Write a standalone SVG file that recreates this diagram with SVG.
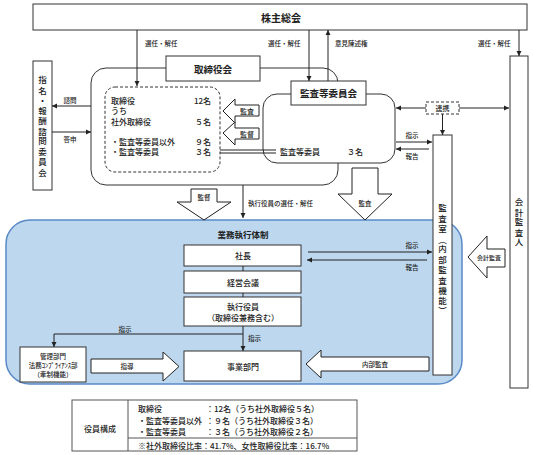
<svg xmlns="http://www.w3.org/2000/svg" width="533" height="455" viewBox="0 0 533 455">
<defs>
<marker id="ah" markerUnits="userSpaceOnUse" markerWidth="6" markerHeight="6" refX="5" refY="3" orient="auto"><path d="M0,0.5 L5,3 L0,5.5 Z" fill="#222"/></marker>
<style>
.bx{fill:#fff;stroke:#333;stroke-width:1}
.ln{fill:none;stroke:#222;stroke-width:1}
.ba{fill:#fff;stroke:#222;stroke-width:1}
.t{font-family:"Noto Sans CJK JP","Noto Sans",sans-serif;fill:#222;font-weight:500}
.b{font-weight:bold}
.c{text-anchor:middle;dominant-baseline:central}
.s{dominant-baseline:central}
.v{writing-mode:vertical-rl;text-anchor:middle}
</style>
</defs>
<rect width="533" height="455" fill="#fff"/>

<g id="kabunushi">
<rect class="bx" x="33" y="4" width="494" height="26"/>
<text class="t b c" x="281" y="17" font-size="10">株主総会</text>
</g>

<g id="gyomu">
<rect x="6" y="220" width="456" height="164" rx="24" fill="#BDD7EE" stroke="#5A8AC6" stroke-width="1.5"/>
<text class="t b c" x="243" y="234" font-size="8.5">業務執行体制</text>
</g>

<g id="torishimariyakukai">
<rect x="91" y="68" width="247" height="117" rx="15" fill="none" stroke="#333" stroke-width="1"/>
<rect class="bx" x="166" y="56" width="94" height="25"/>
<text class="t b c" x="213" y="68.5" font-size="9.5">取締役会</text>
<rect x="105" y="87" width="115" height="85" rx="10" fill="#fff" stroke="#333" stroke-width="1" stroke-dasharray="3,2"/>
<text class="t s" x="111" y="100" font-size="8">取締役</text>
<text class="t s" x="194" y="100" font-size="8">12名</text>
<text class="t s" x="111" y="110.5" font-size="8">うち</text>
<text class="t s" x="111" y="121" font-size="8">社外取締役</text>
<text class="t s" x="195" y="121" font-size="8">５名</text>
<text class="t s" x="111" y="141.5" font-size="8">・監査等委員以外</text>
<text class="t s" x="195" y="141.5" font-size="8">９名</text>
<text class="t s" x="111" y="151.5" font-size="8">・監査等委員</text>
<text class="t s" x="195" y="151.5" font-size="8">３名</text>
</g>

<g id="kansatouiinkai">
<rect class="bx" x="263" y="94" width="132" height="69" rx="14"/>
<rect class="bx" x="291" y="81" width="75" height="24"/>
<text class="t b c" x="328.5" y="93" font-size="9.5">監査等委員会</text>
<text class="t s" x="280" y="151.5" font-size="8">監査等委員</text>
<text class="t s" x="347" y="151.5" font-size="8">３名</text>
</g>

<g id="shimei">
<rect class="bx" x="33" y="61" width="19" height="129"/>
<text class="t v" x="42.5" font-size="8.5"><tspan y="80">指</tspan><tspan y="90.2">名</tspan><tspan y="100.4">・</tspan><tspan y="110.6">報</tspan><tspan y="120.8">酬</tspan><tspan y="131">諮</tspan><tspan y="141.2">問</tspan><tspan y="151.4">委</tspan><tspan y="161.6">員</tspan><tspan y="171.8">会</tspan></text>
</g>

<g id="kansashitsu">
<rect class="bx" x="433" y="135" width="19" height="240"/>
<text class="t v" x="442.5" font-size="8.5"><tspan y="208">監</tspan><tspan y="218.3">査</tspan><tspan y="228.6">室</tspan><tspan y="238.9">（</tspan><tspan y="249.2">内</tspan><tspan y="259.5">部</tspan><tspan y="269.8">監</tspan><tspan y="280.1">査</tspan><tspan y="290.4">機</tspan><tspan y="300.7">能</tspan><tspan y="311">）</tspan></text>
</g>

<g id="kaikeikansanin">
<rect class="bx" x="510" y="56" width="18" height="332"/>
<text class="t v" x="519" font-size="8.5"><tspan y="202">会</tspan><tspan y="212">計</tspan><tspan y="222">監</tspan><tspan y="232">査</tspan><tspan y="242">人</tspan></text>
</g>

<g id="renkei">
<rect x="426" y="102" width="33" height="12" fill="#fff" stroke="#333" stroke-dasharray="3,2"/>
<text class="t c" x="442.5" y="108" font-size="7">連携</text>
</g>

<g id="shacho">
<rect class="bx" x="184" y="245" width="117" height="21"/>
<text class="t c" x="243" y="255.5" font-size="8">社長</text>
</g>
<g id="keiei">
<rect class="bx" x="184" y="271" width="117" height="22"/>
<text class="t c" x="243" y="282" font-size="8">経営会議</text>
</g>
<g id="shikkou">
<rect class="bx" x="184" y="297" width="117" height="29"/>
<text class="t c" x="243" y="306.5" font-size="8">執行役員</text>
<text class="t c" x="243" y="317" font-size="8">（取締役兼務含む）</text>
</g>
<g id="jigyo">
<rect class="bx" x="184" y="351" width="117" height="30"/>
<text class="t c" x="243" y="366" font-size="8">事業部門</text>
</g>
<g id="kanri">
<rect class="bx" x="20" y="347" width="66" height="35"/>
<text class="t c" x="53" y="356" font-size="6.5">管理部門</text>
<text class="t c" x="53" y="365" font-size="6.5">法務ｺﾝﾌﾟﾗｲｱﾝｽ部</text>
<text class="t c" x="53" y="374" font-size="6.5">（牽制機能）</text>
</g>

<g id="connectors">
<line class="ln" x1="137" y1="30" x2="137" y2="86" marker-end="url(#ah)"/>
<text class="t s" x="145" y="43" font-size="6.5">選任・解任</text>
<line class="ln" x1="309" y1="30" x2="309" y2="81" marker-end="url(#ah)"/>
<text class="t s" x="268" y="43" font-size="6.5">選任・解任</text>
<line class="ln" x1="328" y1="81" x2="328" y2="30" marker-end="url(#ah)"/>
<text class="t s" x="335" y="43" font-size="6.5">意見陳述権</text>
<line class="ln" x1="519" y1="30" x2="519" y2="56" marker-end="url(#ah)"/>
<text class="t s" x="478" y="43" font-size="6.5">選任・解任</text>

<line class="ln" x1="91" y1="106" x2="52" y2="106" marker-end="url(#ah)"/>
<text class="t c" x="70" y="100" font-size="6.5">諮問</text>
<line class="ln" x1="52" y1="132" x2="91" y2="132" marker-end="url(#ah)"/>
<text class="t c" x="70" y="139" font-size="6.5">答申</text>

<polygon class="ba" points="223,111 235,99 235,105 259,105 259,116 235,116 235,123"/>
<text class="t c" x="247" y="110.5" font-size="7">監査</text>
<polygon class="ba" points="223,133 235,122 235,128 259,128 259,139 235,139 235,145"/>
<text class="t c" x="247" y="133.5" font-size="7">監督</text>

<line class="ln" x1="220" y1="150" x2="276" y2="150"/>
<line class="ln" x1="220" y1="153" x2="276" y2="153"/>

<polygon class="ba" points="191,189 217,189 217,202 231,202 204,220 177,202 191,202"/>
<text class="t c" x="204" y="197" font-size="6.5">監督</text>
<polygon class="ba" points="352,168 378,168 378,194 392,194 365,220 338,194 352,194"/>
<text class="t c" x="365" y="203" font-size="6.5">監査</text>
<line class="ln" x1="243" y1="185" x2="243" y2="218" marker-end="url(#ah)"/>
<text class="t s" x="248" y="203" font-size="6.5">執行役員の選任・解任</text>

<line class="ln" x1="426" y1="108" x2="396" y2="108" marker-end="url(#ah)"/>
<line class="ln" x1="459" y1="108" x2="509" y2="108" marker-end="url(#ah)"/>
<line class="ln" x1="442.5" y1="114" x2="442.5" y2="135" marker-end="url(#ah)"/>
<line class="ln" x1="396" y1="142" x2="432" y2="142" marker-end="url(#ah)"/>
<text class="t c" x="412" y="135" font-size="6.5">指示</text>
<line class="ln" x1="429" y1="149" x2="396" y2="149" marker-end="url(#ah)"/>
<text class="t c" x="412" y="156" font-size="6.5">報告</text>

<line class="ln" x1="243" y1="266" x2="243" y2="271"/>
<line class="ln" x1="243" y1="293" x2="243" y2="297"/>
<line class="ln" x1="243" y1="326" x2="243" y2="351" marker-end="url(#ah)"/>
<text class="t s" x="248" y="338" font-size="6.5">指示</text>
<polyline class="ln" points="243,334 54,334 54,347" marker-end="url(#ah)"/>
<text class="t c" x="125" y="329" font-size="6.5">指示</text>

<line class="ln" x1="308" y1="252" x2="432" y2="252" marker-end="url(#ah)"/>
<text class="t c" x="412" y="245" font-size="6.5">指示</text>
<line class="ln" x1="427" y1="260" x2="307" y2="260" marker-end="url(#ah)"/>
<text class="t c" x="412" y="267" font-size="6.5">報告</text>

<polygon class="ba" points="91,359 163,359 163,352 179,366.5 163,381 163,373 91,373"/>
<text class="t c" x="127" y="366" font-size="6.5">指導</text>
<polygon class="ba" points="306,364 321,350 321,357 429,357 429,371 321,371 321,378"/>
<text class="t c" x="375" y="364" font-size="6.5">内部監査</text>
<polygon class="ba" points="468,257 487,236 487,249 505,249 505,267 487,267 487,278"/>
<text class="t c" x="489" y="257.5" font-size="6">会計監査</text>
</g>

<g id="table">
<rect x="72" y="400" width="285" height="51" fill="#fff" stroke="#555" stroke-width="1"/>
<line x1="128" y1="400" x2="128" y2="451" stroke="#555"/>
<line x1="128" y1="438" x2="357" y2="438" stroke="#555"/>
<text class="t c" x="100" y="428" font-size="8">役員構成</text>
<text class="t s" x="138" y="408" font-size="8">取締役</text>
<text class="t s" x="206" y="408" font-size="8">：12名（うち社外取締役５名）</text>
<text class="t s" x="138" y="420" font-size="8">・監査等委員以外</text>
<text class="t s" x="206" y="420" font-size="8">：９名（うち社外取締役３名）</text>
<text class="t s" x="138" y="431" font-size="8">・監査等委員</text>
<text class="t s" x="206" y="431" font-size="8">：３名（うち社外取締役２名）</text>
<text class="t s" x="138" y="445.5" font-size="8">※社外取締役比率：41.7%、女性取締役比率：16.7%</text>
</g>
</svg>
